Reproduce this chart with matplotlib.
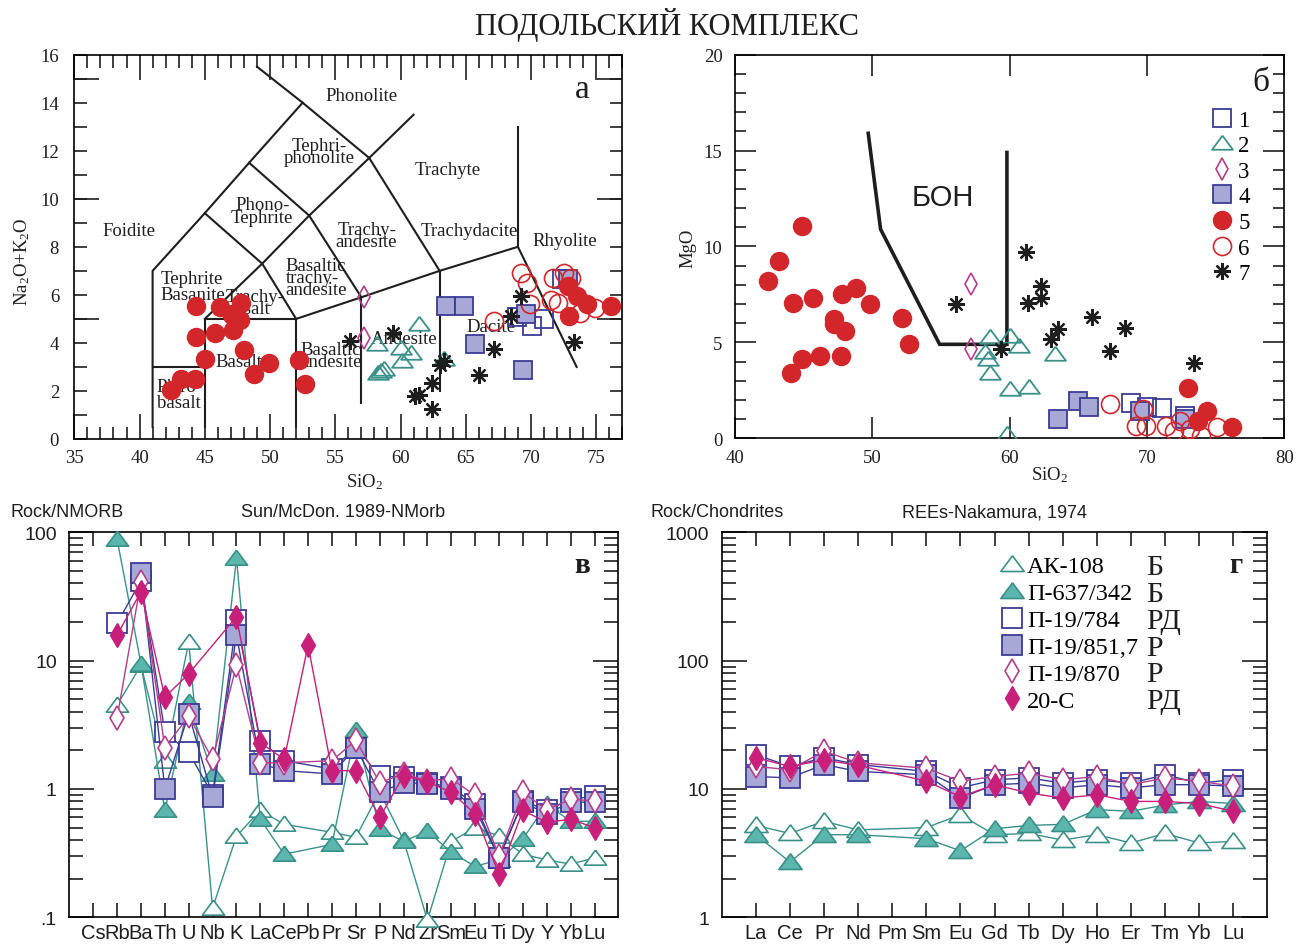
import numpy as np
import matplotlib.pyplot as plt
from matplotlib.lines import Line2D
from matplotlib.ticker import FixedLocator, FuncFormatter, LogLocator, NullFormatter

plt.rcParams['font.family'] = ['Liberation Serif', 'DejaVu Serif']
plt.rcParams['mathtext.default'] = 'regular'
plt.rcParams['axes.linewidth'] = 1.2
SANS = ['Liberation Sans', 'DejaVu Sans']

INK = '#1e1e1e'
RED = '#d3262b'
TEAL = '#3a918a'
TEAL_FILL = '#5bb6ae'
BLUE = '#3b3b96'
LAVENDER = '#a8a8d7'
PINK = '#b53d8c'
MAGENTA = '#c81f7b'
TRI = [(0, 0.75), (-1, -0.6), (1, -0.6), (0, 0.75)]

# ---- TAS diagram: field boundaries (SiO2, Na2O+K2O)
tas_fields = [
    [(41, 0.5), (41, 7), (45, 9.4), (48.4, 11.5), (52.5, 14)],
    [(49, 15.5), (52.5, 14), (57.6, 11.7), (61, 13.5)],
    [(48.4, 11.5), (53, 9.3), (57.6, 11.7)],
    [(45, 9.4), (49.4, 7.3), (53, 9.3)],
    [(45, 5), (49.4, 7.3), (52, 5)],
    [(53, 9.3), (57, 5.9)],
    [(57.6, 11.7), (63, 7)],
    [(41, 3), (45, 3)],
    [(45, 0.5), (45, 5), (52, 5), (52, 0.5)],
    [(52, 5), (57, 5.9), (63, 7), (69, 8)],
    [(57, 1.5), (57, 5.9)],
    [(63, 2), (63, 7)],
    [(69, 8), (69, 13)],
    [(69, 8), (73.5, 3.0)],
]
# name, x, y, ha, linespacing
tas_names = [
    ('Phonolite', 57.0, 14.3, 'center', 1.0),
    ('Tephri-\nphonolite', 53.8, 11.95, 'center', 0.62),
    ('Trachyte', 63.6, 11.2, 'center', 1.0),
    ('Phono-\nTephrite', 49.4, 9.5, 'center', 0.68),
    ('Foidite', 39.2, 8.7, 'center', 1.0),
    ('Trachy-\nandesite', 57.4, 8.48, 'center', 0.62),
    ('Trachydacite', 65.3, 8.7, 'center', 1.0),
    ('Rhyolite', 72.6, 8.25, 'center', 1.0),
    ('Tephrite\nBasanite', 41.6, 6.34, 'left', 0.95),
    ('Trachy-\nbasalt', 46.6, 5.7, 'left', 0.62),
    ('Basaltic\ntrachy-\nandesite', 51.2, 6.72, 'left', 0.62),
    ('Basalt', 47.6, 3.24, 'center', 1.0),
    ('Picro-\nbasalt', 41.3, 1.85, 'left', 0.9),
    ('Basaltic\nandesite', 52.35, 3.48, 'left', 0.62),
    ('Andesite', 60.3, 4.2, 'center', 1.0),
    ('Dacite', 66.9, 4.7, 'center', 1.0),
]

# ---- TAS samples by group 1..7
tas_sio2_1 = [68.9, 70.1, 71.0, 72.4]
tas_alk_1 = [5.08, 4.70, 4.98, 6.65]
tas_sio2_2 = [61.4, 58.2, 60.0, 60.8, 60.1, 58.3, 58.5, 58.7, 63.3]
tas_alk_2 = [4.77, 3.94, 3.80, 3.59, 3.24, 2.75, 2.82, 2.90, 3.31]
tas_sio2_3 = [57.2, 57.2]
tas_alk_3 = [5.93, 4.19]
tas_sio2_4 = [63.5, 64.9, 65.7, 69.4, 69.6, 72.8]
tas_alk_4 = [5.54, 5.54, 3.96, 2.89, 5.19, 6.65]
tas_sio2_5 = [44.3, 46.2, 47.8, 47.1, 47.7, 44.3, 45.8, 47.2, 45.0, 48.0, 49.9,
              48.8, 52.2, 52.7, 43.2, 44.25, 42.4, 72.8, 73.5, 74.3, 76.1, 72.9]
tas_alk_5 = [5.54, 5.49, 5.67, 5.15, 4.94, 4.24, 4.42, 4.52, 3.31, 3.69, 3.17,
             2.71, 3.28, 2.29, 2.50, 2.48, 2.03, 6.37, 5.95, 5.60, 5.54, 5.12]
tas_sio2_6 = [69.2, 69.7, 69.9, 67.2, 71.7, 73.1, 71.5, 72.1, 73.75, 74.9, 72.5]
tas_alk_6 = [6.93, 6.50, 5.60, 4.90, 6.70, 6.70, 5.80, 5.67, 5.26, 5.47, 6.90]
tas_sio2_7 = [56.1, 59.4, 63.05, 63.3, 69.2, 68.5, 67.2, 66.0, 73.3, 62.4, 61.4, 61.1, 62.4]
tas_alk_7 = [4.07, 4.42, 3.10, 3.24, 5.95, 5.12, 3.76, 2.68, 4.03, 2.34, 1.85, 1.78, 1.25]

# ---- MgO vs SiO2 by group 1..7
mg_sio2_1 = [68.8, 70.0, 71.1, 72.8]
mg_mgo_1 = [1.82, 1.61, 1.56, 1.18]
mg_sio2_2 = [58.6, 60.0, 60.7, 58.2, 58.4, 58.6, 60.0, 61.4, 63.3, 59.8]
mg_mgo_2 = [5.26, 5.34, 4.82, 4.48, 4.13, 3.43, 2.57, 2.65, 4.39, 0.23]
mg_sio2_3 = [57.2, 57.2]
mg_mgo_3 = [8.03, 4.65]
mg_sio2_4 = [63.5, 65.0, 65.75, 69.5, 72.8]
mg_mgo_4 = [1.00, 1.96, 1.61, 1.44, 1.00]
mg_sio2_5 = [44.9, 43.2, 42.4, 44.2, 45.7, 47.8, 48.8, 49.8, 47.2, 48.0, 47.2,
             52.15, 52.65, 44.9, 46.2, 47.7, 44.1, 73.0, 74.4, 73.7, 76.2]
mg_mgo_5 = [11.07, 9.25, 8.20, 7.08, 7.30, 7.51, 7.86, 6.99, 6.21, 5.57, 5.95,
            6.26, 4.91, 4.13, 4.30, 4.30, 3.38, 2.60, 1.44, 0.92, 0.57]
mg_sio2_6 = [67.3, 69.7, 69.2, 69.9, 71.4, 72.0, 72.4, 73.1, 73.9, 75.1]
mg_mgo_6 = [1.79, 1.53, 0.66, 0.66, 0.66, 0.40, 0.92, 0.49, 0.14, 0.57]
mg_sio2_7 = [56.1, 61.2, 61.3, 62.3, 62.3, 63.0, 63.5, 66.0, 67.3, 68.4, 73.4, 59.4]
mg_mgo_7 = [6.99, 9.73, 7.04, 7.94, 7.29, 5.17, 5.69, 6.30, 4.56, 5.74, 3.92, 4.65]

# boninite field outline
bon_sio2 = [49.7, 50.6, 54.9, 59.8, 59.8]
bon_mgo = [15.9, 10.9, 4.9, 4.9, 14.9]

group_labels = ['1', '2', '3', '4', '5', '6', '7']
group_styles = [
    dict(marker='s', ms=13, mfc='none', mec=BLUE, mew=1.3),
    dict(marker=TRI, ms=15, mfc='none', mec=TEAL, mew=1.3),
    dict(marker='d', ms=11, mfc='none', mec=PINK, mew=1.2),
    dict(marker='s', ms=13, mfc=LAVENDER, mec=BLUE, mew=1.3),
    dict(marker='o', ms=13, mfc=RED, mec=RED, mew=1.0),
    dict(marker='o', ms=13, mfc='none', mec=RED, mew=1.2),
    dict(marker=(8, 2, 0), ms=12, mfc='none', mec=INK, mew=1.6),
]

# ---- spidergram, NMORB normalised
spider_elements = ['Cs', 'Rb', 'Ba', 'Th', 'U', 'Nb', 'K', 'La', 'Ce', 'Pb', 'Pr',
                   'Sr', 'P', 'Nd', 'Zr', 'Sm', 'Eu', 'Ti', 'Dy', 'Y', 'Yb', 'Lu']
nan = np.nan
spider_ak108 = [nan, 4.5, 9.2, 1.66, 14.0, 0.118, 0.43, 0.68, 0.53, nan, 0.46,
                0.42, 0.95, 0.40, 0.095, 0.39, 0.50, 0.43, 0.31, 0.28, 0.26, 0.29]
spider_p637 = [nan, 88, 9.5, 0.68, 4.75, 1.3, 63, 0.58, 0.31, nan, 0.37,
               2.9, 0.485, 0.39, 0.47, 0.32, 0.25, 0.28, 0.41, 0.76, 0.56, 0.56]
spider_p784 = [nan, 19.5, 42, 2.77, 1.93, 0.9, 20.7, 2.38, 1.66, nan, 1.43,
               2.1, 1.27, 1.23, 1.12, 1.03, 0.76, 0.29, 0.81, 0.68, 0.83, 0.88]
spider_p8517 = [nan, nan, 48, 1.0, 3.86, 0.86, 15.8, 1.57, 1.39, nan, 1.31,
                2.1, 0.94, 1.12, 1.10, 1.0, 0.70, 0.29, 0.79, 0.64, 0.79, 0.79]
spider_p870 = [nan, 3.6, 41, 2.1, 3.7, 1.7, 9.2, 1.6, 1.6, nan, 1.66,
               2.4, 1.12, 1.31, 1.16, 1.2, 0.89, 0.30, 0.94, 0.69, 0.83, 0.81]
spider_20c = [nan, 15.8, 34.5, 5.2, 7.9, nan, 22, 2.3, 1.7, 13.2, 1.39,
              1.39, 0.60, 1.27, 1.14, 0.94, 0.64, 0.216, 0.68, 0.55, 0.58, 0.50]

# ---- REE, chondrite normalised
ree_elements = ['La', 'Ce', 'Pr', 'Nd', 'Pm', 'Sm', 'Eu', 'Gd', 'Tb', 'Dy', 'Ho',
                'Er', 'Tm', 'Yb', 'Lu']
ree_ak108 = [5.2, 4.5, 5.6, 4.8, nan, 5.0, 6.3, 4.4, 4.5, 4.0, 4.4, 3.8, 4.5, 3.8, 3.9]
ree_p637 = [4.4, 2.7, 4.4, 4.4, nan, 4.1, 3.3, 4.9, 5.2, 5.3, 6.9, 6.7, 7.5, 8.0, 7.7]
ree_p784 = [18.5, 15, 17.5, 15.5, nan, 13.7, 10.2, 11.8, 12.2, 11.1, 11.8, 11.1, 12.9, 11.1, 11.8]
ree_p8517 = [12.5, 12.2, 15.5, 13.7, nan, 12.9, 8.5, 10.8, 11.1, 10.2, 10.8, 10.2, 10.8, 10.8, 10.5]
ree_p870 = [15, 14.1, 19.7, 16, nan, 14.5, 11.5, 12.5, 13.3, 11.8, 12.5, 10.8, 12.2, 11.5, 10.5]
ree_20c = [17.5, 15, 16.8, 15.3, nan, 11.5, 8.7, 10.8, 9.3, 8.5, 9.0, 8.0, 8.0, 7.7, 6.7]

sample_names = ['АК-108', 'П-637/342', 'П-19/784', 'П-19/851,7', 'П-19/870', '20-С']
sample_rocks = ['Б', 'Б', 'РД', 'Р', 'Р', 'РД']
sample_lines = [TEAL, TEAL, BLUE, BLUE, PINK, MAGENTA]
sample_styles = [
    dict(marker=TRI, mfc='white', mec=TEAL, mew=1.2),
    dict(marker=TRI, mfc=TEAL_FILL, mec=TEAL, mew=1.2),
    dict(marker='s', mfc='white', mec=BLUE, mew=1.3),
    dict(marker='s', mfc=LAVENDER, mec=BLUE, mew=1.3),
    dict(marker='d', mfc='white', mec=PINK, mew=1.2),
    dict(marker='d', mfc=MAGENTA, mec=MAGENTA, mew=1.0),
]
sample_ms = [16, 16, 14, 14, 12, 12]


fig = plt.figure(figsize=(13.06, 9.45), dpi=100)
fig.text(0.511, 0.9735, 'ПОДОЛЬСКИЙ КОМПЛЕКС', ha='center', va='center',
         fontsize=22, color=INK)

# ===== a: TAS
ax_a = fig.add_axes([0.0569, 0.5344, 0.4196, 0.4067])
for seg in tas_fields:
    xs, ys = zip(*seg)
    ax_a.plot(xs, ys, color=INK, lw=1.5, zorder=1)
for name, x, y, ha, ls in tas_names:
    ax_a.text(x, y, name, ha=ha, va='center', fontsize=13.5, linespacing=ls,
              color=INK, zorder=2)
tas_groups = [(tas_sio2_1, tas_alk_1), (tas_sio2_2, tas_alk_2), (tas_sio2_3, tas_alk_3),
              (tas_sio2_4, tas_alk_4), (tas_sio2_5, tas_alk_5), (tas_sio2_6, tas_alk_6),
              (tas_sio2_7, tas_alk_7)]
for (xs, ys), st in zip(tas_groups, group_styles):
    ax_a.plot(xs, ys, ls='none', zorder=3, **st)
ax_a.text(73.9, 14.6, 'а', fontsize=24, ha='center', va='center', color=INK)
ax_a.set_xlim(35, 77)
ax_a.set_ylim(0, 16)
ax_a.xaxis.set_major_locator(FixedLocator(range(35, 80, 5)))
ax_a.xaxis.set_minor_locator(FixedLocator(range(35, 78)))
ax_a.yaxis.set_major_locator(FixedLocator(range(0, 17)))
ax_a.yaxis.set_major_formatter(FuncFormatter(lambda v, p: f'{int(round(v))}' if int(round(v)) % 2 == 0 else ''))
ax_a.yaxis.set_minor_locator(FixedLocator([5, 10, 15]))
ax_a.yaxis.remove_overlapping_locs = False
ax_a.tick_params(which='both', direction='in', top=True, right=True, width=1.2,
                 colors=INK, labelsize=13.5)
ax_a.tick_params(axis='x', which='major', length=18, pad=7)
ax_a.tick_params(axis='x', which='minor', length=9)
ax_a.tick_params(axis='y', which='major', length=9, pad=11)
ax_a.tick_params(axis='y', which='minor', length=18)
fig.text(0.0168, 1 - 262 / 945, r'Na$_2$O+K$_2$O', rotation=90, ha='center',
         va='center', fontsize=13.5, color=INK)
fig.text(0.2795, 1 - 482 / 945, r'SiO$_2$', ha='center', va='center', fontsize=13.5, color=INK)

# ===== б: MgO vs SiO2
ax_b = fig.add_axes([0.5628, 0.5351, 0.4206, 0.4060])
ax_b.plot(bon_sio2, bon_mgo, color=INK, lw=2.6, solid_joinstyle='miter', zorder=2)
ax_b.text(55.1, 12.6, 'БОН', family=SANS, fontsize=21, ha='center', va='center', color=INK)
mg_groups = [(mg_sio2_1, mg_mgo_1), (mg_sio2_2, mg_mgo_2), (mg_sio2_3, mg_mgo_3),
             (mg_sio2_4, mg_mgo_4), (mg_sio2_5, mg_mgo_5), (mg_sio2_6, mg_mgo_6),
             (mg_sio2_7, mg_mgo_7)]
for (xs, ys), st, lab in zip(mg_groups, group_styles, group_labels):
    ax_b.plot(xs, ys, ls='none', zorder=3, label=lab, **st)
ax_b.legend(loc='upper left', bbox_to_anchor=(0.865, 0.857), frameon=False,
            fontsize=16.5, numpoints=1, handlelength=1.0, handletextpad=0.22,
            labelspacing=0.2, borderpad=0, borderaxespad=0)
ax_b.text(78.3, 18.6, 'б', fontsize=24, ha='center', va='center', color=INK)
ax_b.set_xlim(40, 80)
ax_b.set_ylim(0, 20)
ax_b.xaxis.set_major_locator(FixedLocator([40, 50, 60, 70, 80]))
ax_b.yaxis.set_major_locator(FixedLocator([0, 5, 10, 15, 20]))
ax_b.yaxis.set_minor_locator(FixedLocator(range(0, 21)))
ax_b.tick_params(which='both', direction='in', top=True, right=True, width=1.2,
                 colors=INK, labelsize=13.5)
ax_b.tick_params(which='major', length=15)
ax_b.tick_params(which='minor', length=8)
ax_b.tick_params(axis='x', pad=8)
ax_b.tick_params(axis='y', pad=9)
fig.text(0.804, 0.4974, r'SiO$_2$', ha='center', va='center', fontsize=13.5, color=INK)
fig.text(0.527, 0.7376, 'MgO', rotation=90, ha='center', va='center', fontsize=13.5, color=INK)


def log_axis(ax, lo, hi, labels):
    ax.set_yscale('log')
    ax.set_ylim(lo, hi)
    ax.yaxis.set_major_locator(FixedLocator(list(labels)))
    ax.yaxis.set_major_formatter(FuncFormatter(lambda v, p: labels.get(v, '')))
    ax.yaxis.set_minor_locator(LogLocator(base=10, subs=range(2, 10)))
    ax.yaxis.set_minor_formatter(NullFormatter())
    ax.tick_params(which='both', direction='in', top=True, right=True, width=1.2, colors=INK)
    ax.tick_params(axis='y', which='major', length=18, pad=9, labelsize=14)
    ax.tick_params(axis='y', which='minor', length=10)
    ax.tick_params(axis='x', which='major', length=10, pad=4, labelsize=14.5)
    for t in ax.get_xticklabels() + ax.get_yticklabels():
        t.set_family(SANS)


def draw_samples(ax, series, ms_scale=1.0):
    xs = np.arange(len(series[0]))
    for vals, col, st, ms in zip(series, sample_lines, sample_styles, sample_ms):
        v = np.asarray(vals, dtype=float)
        ok = np.isfinite(v)
        ax.plot(xs[ok], v[ok], color=col, lw=1.0, ms=ms * ms_scale, clip_on=False,
                zorder=3, **st)


# ===== в: spidergram
ax_c = fig.add_axes([0.0531, 0.02825, 0.4204, 0.4074])
draw_samples(ax_c, [spider_ak108, spider_p637, spider_p784, spider_p8517,
                    spider_p870, spider_20c])
ax_c.set_xlim(-1, len(spider_elements))
ax_c.set_xticks(range(len(spider_elements)))
ax_c.set_xticklabels(spider_elements)
log_axis(ax_c, 0.1, 100, {0.1: '.1', 1: '1', 10: '10', 100: '100'})
ax_c.text(20.5, 56, 'в', fontsize=21, fontweight='bold', ha='center', va='center', color=INK)
fig.text(10 / 1306, 1 - 513 / 945, 'Rock/NMORB', family=SANS, fontsize=13,
         ha='left', va='center', color=INK)
fig.text(343 / 1306, 1 - 513 / 945, 'Sun/McDon. 1989-NMorb', family=SANS, fontsize=13,
         ha='center', va='center', color=INK)

# ===== г: REE
ax_d = fig.add_axes([0.5526, 0.02825, 0.4178, 0.4074])
draw_samples(ax_d, [ree_ak108, ree_p637, ree_p784, ree_p8517, ree_p870, ree_20c],
             ms_scale=1.05)
ax_d.set_xlim(-1, len(ree_elements))
ax_d.set_xticks(range(len(ree_elements)))
ax_d.set_xticklabels(ree_elements)
log_axis(ax_d, 1, 1000, {1: '1', 10: '10', 100: '100', 1000: '1000'})
ax_d.text(14.08, 566, 'г', fontsize=21, fontweight='bold', ha='center', va='center', color=INK)
fig.text(651 / 1306, 1 - 513 / 945, 'Rock/Chondrites', family=SANS, fontsize=13,
         ha='left', va='center', color=INK)
fig.text(994 / 1306, 1 - 513 / 945, 'REEs-Nakamura, 1974', family=SANS, fontsize=13,
         ha='center', va='center', color=INK)

handles = [Line2D([], [], ls='none', ms=ms * 1.05, **st)
           for st, ms in zip(sample_styles, sample_ms)]
leg = ax_d.legend(handles, sample_names, loc='upper left', bbox_to_anchor=(0.512, 0.94),
                  frameon=False, fontsize=17.5, numpoints=1, handlelength=0.9,
                  handletextpad=0.17, labelspacing=0.2, borderpad=0, borderaxespad=0)

# rock type column, aligned with the legend rows
fig.canvas.draw()
inv = ax_d.transAxes.inverted()
for txt, rock in zip(leg.get_texts(), sample_rocks):
    bb = txt.get_window_extent()
    _, yc = inv.transform((bb.x0, (bb.y0 + bb.y1) / 2))
    ax_d.text(0.7775, yc, rock, transform=ax_d.transAxes, fontsize=21.5,
              ha='left', va='center', color=INK)

fig.savefig('out.png', dpi=100)
